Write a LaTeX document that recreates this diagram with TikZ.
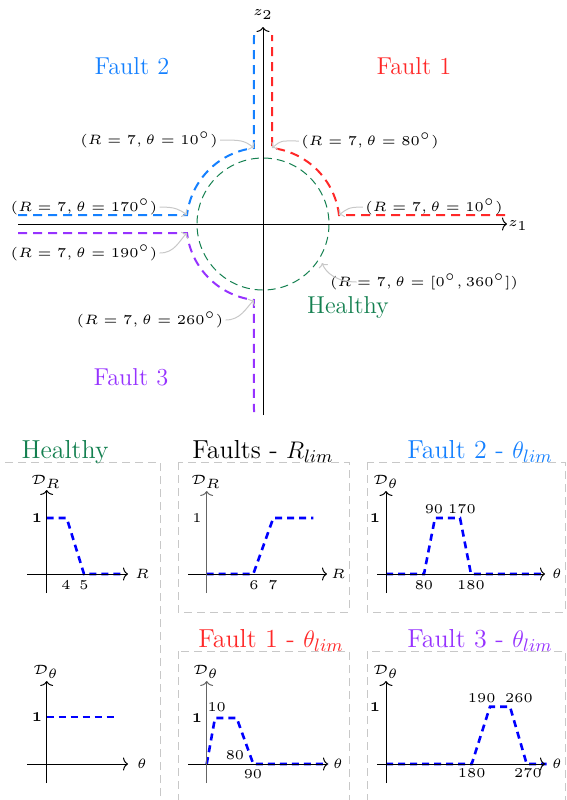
\documentclass[tikz,border=0pt]{standalone}
\usetikzlibrary{arrows.meta}
\definecolor{fone}{RGB}{255,40,40}
\definecolor{ftwo}{RGB}{20,128,255}
\definecolor{fthree}{RGB}{150,50,255}
\definecolor{hgreen}{RGB}{20,128,80}
\definecolor{lgray}{RGB}{200,200,200}
\definecolor{agray}{RGB}{100,100,100}
\newcommand\smlab[1]{\scalebox{1.36}{\tiny$#1$}}
\newcommand\plab[1]{\scalebox{1.35}{\tiny$#1$}}
\begin{document}
\begin{tikzpicture}[x=0.5pt,y=-0.5pt,
  axis/.style={line width=0.5pt, -{To[length=2.5pt,width=6.5pt]}},
  fault/.style={line width=1pt, dash pattern=on 4.5pt off 3pt},
  healthy/.style={hgreen, line width=0.5pt, dash pattern=on 4pt off 2.5pt},
  lab/.style={inner sep=0pt},
  ptr/.style={lgray, line width=0.5pt, -{To[length=2pt,width=5pt]}},
  big/.style={inner sep=0pt, font=\fontsize{12.2}{14}\selectfont},
  title/.style={inner sep=0pt, anchor=base, font=\fontsize{13}{15}\selectfont},
  panel/.style={lgray, line width=0.5pt, dash pattern=on 4pt off 2.5pt},
  curve/.style={blue, line width=1.3pt, dash pattern=on 3.5pt off 2.5pt},
  tick/.style={inner sep=0pt},
]
\clip (0,0) rectangle (567,800);

% ---------------- top diagram ----------------
\coordinate (O) at (263,224);
\coordinate (z1s) at (18,224);
\coordinate (z1e) at (507,224);
\coordinate (z2s) at (263,415);
\coordinate (z2e) at (263,27);
\draw[healthy] (O) circle[radius=66];
\draw[axis] (z1s) -- (z1e);
\draw[axis] (z2s) -- (z2e);
\node[lab] (z1lab) at (518,226) {\smlab{z_1}};
\node[lab] (z2lab) at (263,15) {\smlab{z_2}};

% fault paths
\coordinate (f1a) at (505,215);
\coordinate (f1b) at (339,215);
\coordinate (f1c) at (272,148);
\coordinate (f1d) at (272,35);
\draw[fault, fone] (f1a) -- (f1b) arc[start angle=-6.75, end angle=-83.25, radius=76.5] -- (f1d);
\coordinate (f2a) at (18,215);
\coordinate (f2b) at (187,215);
\coordinate (f2c) at (254,148);
\coordinate (f2d) at (254,35);
\draw[fault, ftwo] (f2a) -- (f2b) arc[start angle=-173.25, end angle=-96.75, radius=76.5] -- (f2d);
\coordinate (f3a) at (18,233);
\coordinate (f3b) at (187,233);
\coordinate (f3c) at (254,300);
\coordinate (f3d) at (254,412);
\draw[fault, fthree] (f3a) -- (f3b) arc[start angle=173.25, end angle=96.75, radius=76.5] -- (f3d);
\coordinate (hpt) at (322,263);

% labels
\node[lab] (l10b) at (149,140) {\smlab{(R=7,\theta=10^\circ)}};
\node[lab] (l80) at (370,141) {\smlab{(R=7,\theta=80^\circ)}};
\node[lab] (l170) at (84,207) {\smlab{(R=7,\theta=170^\circ)}};
\node[lab] (l190) at (84,253) {\smlab{(R=7,\theta=190^\circ)}};
\node[lab] (l10r) at (434,207) {\smlab{(R=7,\theta=10^\circ)}};
\node[lab] (l260) at (150,320) {\smlab{(R=7,\theta=260^\circ)}};
\node[lab] (l360) at (424,282) {\smlab{(R=7,\theta=[0^\circ,360^\circ])}};

\draw[ptr] ([xshift=1pt]l10b.east) .. controls +(20,0) and +(-10,-8) .. (f2c);
\draw[ptr] ([xshift=-1pt]l80.west) .. controls +(-20,0) and +(10,-8) .. (f1c);
\draw[ptr] ([xshift=1pt]l170.east) .. controls +(15,0) and +(-8,-6) .. (f2b);
\draw[ptr] ([xshift=-1pt]l10r.west) .. controls +(-15,0) and +(8,-6) .. (f1b);
\draw[ptr] ([xshift=1pt]l190.east) .. controls +(15,0) and +(-8,8) .. (f3b);
\draw[ptr] ([xshift=1pt]l260.east) .. controls +(15,0) and +(-8,8) .. (f3c);
\draw[ptr] ([xshift=13.5pt]l360.west) .. controls +(-20,0) and +(4,10) .. (hpt);

\node[big, ftwo] (t2) at (132,66) {Fault 2};
\node[big, fone] (t1) at (414,66) {Fault 1};
\node[big, fthree] (t3) at (131,377) {Fault 3};
\node[big, hgreen] (th) at (348,308) {Healthy};

% ---------------- bottom panels ----------------
\draw[panel] (-10,462) rectangle (160,830);
\draw[panel] (178,462) rectangle (349,612);
\draw[panel] (367,462) rectangle (565,612);
\draw[panel] (178,651) rectangle (349,830);
\draw[panel] (367,651) rectangle (565,830);

\node[title, hgreen] (ph) at (65,458) {Healthy};
\node[title] (pfr) at (263,458) {Faults - $R_{lim}$};
\node[title, ftwo] (pf2) at (480,458) {Fault 2 - $\theta_{lim}$};
\node[title, fone] (pf1) at (271,647) {Fault 1 - $\theta_{lim}$};
\node[title, fthree] (pf3) at (480,647) {Fault 3 - $\theta_{lim}$};

% Healthy R
\draw[curve] (46.7,518) -- (66.7,518) -- (84,574) -- (125,574);
\draw[axis] (27,574) -- (128,574);
\draw[axis] (46.7,593) -- (46.7,490);
\node[tick] (hrd) at (46,482) {\plab{\mathcal{D}_R}};
\node[tick] (hrx) at (142,574) {\plab{R}};
\node[tick] (hr1) at (37,518) {\plab{\mathbf{1}}};
\node[tick] (hr4) at (66,585) {\plab{4}};
\node[tick] (hr5) at (84,585) {\plab{5}};

% Faults R
\draw[curve] (206.7,574) -- (253.3,574) -- (273.3,518) -- (313.3,518);
\draw[axis] (188,574) -- (327,574);
\draw[axis, agray] (206.7,593) -- (206.7,491);
\node[tick] (frd) at (206,482) {\plab{\mathcal{D}_R}};
\node[tick] (frx) at (338,574) {\plab{R}};
\node[tick] (fr1) at (197,518) {\plab{1}};
\node[tick] (fr6) at (254,585) {\plab{6}};
\node[tick] (fr7) at (273,585) {\plab{7}};

% Fault 2 theta
\draw[curve] (386,574) -- (424,574) -- (435,518) -- (460,518) -- (471,574) -- (542,574);
\draw[axis] (377,574) -- (545,574);
\draw[axis] (386,593) -- (386,491);
\node[tick] (f2d) at (386,482) {\plab{\mathcal{D}_\theta}};
\node[tick] (f2x) at (557,574) {\plab{\theta}};
\node[tick] (f21) at (375,518) {\plab{\mathbf{1}}};
\node[tick] (f290) at (434,509) {\plab{90}};
\node[tick] (f2170) at (462,509) {\plab{170}};
\node[tick] (f280) at (424,585) {\plab{80}};
\node[tick] (f2180) at (471,585) {\plab{180}};

% Healthy theta
\draw[curve] (46.7,717) -- (118,717);
\draw[axis] (27,764) -- (128,764);
\draw[axis] (46.7,783) -- (46.7,681);
\node[tick] (htd) at (46,672) {\plab{\mathcal{D}_\theta}};
\node[tick] (htx) at (142,764) {\plab{\theta}};
\node[tick] (ht1) at (37,717) {\plab{\mathbf{1}}};

% Fault 1 theta
\draw[curve] (206.7,764) -- (215,718) -- (236.7,718) -- (253.3,764) -- (328,764);
\draw[axis] (188,764) -- (328,764);
\draw[axis, agray] (206.7,783) -- (206.7,681);
\node[tick] (f1d) at (206,672) {\plab{\mathcal{D}_\theta}};
\node[tick] (f1x) at (338,764) {\plab{\theta}};
\node[tick] (f11) at (197,718) {\plab{\mathbf{1}}};
\node[tick] (f110) at (216.7,707) {\plab{10}};
\node[tick] (f180) at (235,755) {\plab{80}};
\node[tick] (f190) at (253,774) {\plab{90}};

% Fault 3 theta
\draw[curve] (386,764) -- (471.7,764) -- (490,706.7) -- (510,706.7) -- (526.7,764) -- (546.7,764);
\draw[axis] (377,764) -- (545,764);
\draw[axis] (386,783) -- (386,681);
\node[tick] (f3d) at (386,672) {\plab{\mathcal{D}_\theta}};
\node[tick] (f3x) at (557,764) {\plab{\theta}};
\node[tick] (f31) at (375,707) {\plab{\mathbf{1}}};
\node[tick] (f3190) at (481.7,698) {\plab{190}};
\node[tick] (f3260) at (519,698) {\plab{260}};
\node[tick] (f3180) at (471.7,773) {\plab{180}};
\node[tick] (f3270) at (528,773) {\plab{270}};
\end{tikzpicture}
\end{document}
